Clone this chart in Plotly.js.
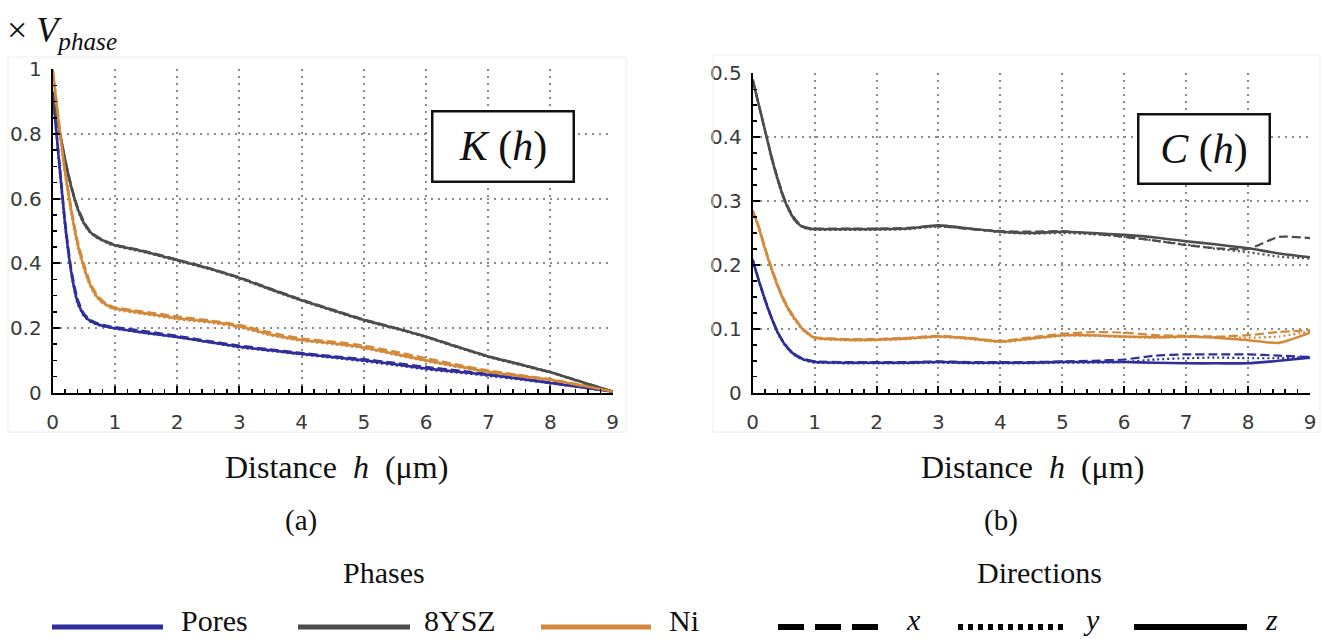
<!DOCTYPE html>
<html>
<head>
<meta charset="utf-8">
<script src="https://cdn.plot.ly/plotly-3.0.1.min.js"></script>
<style>html,body{margin:0;padding:0;background:#fff;}#chart{width:1323px;height:639px;}</style>
</head>
<body>
<div id="chart"></div>
<script>
// ---- Data ----
const phases = ['Pores', '8YSZ', 'Ni'];
const directions = ['x', 'y', 'z'];
const xTicks = [0, 1, 2, 3, 4, 5, 6, 7, 8, 9];
const yTicksK = [0, 0.2, 0.4, 0.6, 0.8, 1];
const yTicksC = [0, 0.1, 0.2, 0.3, 0.4, 0.5];

// distance h (µm)
const hK = [0,0.1,0.2,0.3,0.4,0.5,0.6,0.7,0.8,0.9,1,1.5,2,2.5,3,3.5,4,4.5,5,5.5,6,6.5,7,7.5,8,8.5,9];
const hC = [0,0.1,0.2,0.3,0.4,0.5,0.6,0.7,0.8,0.9,1,1.5,2,2.5,3,3.5,4,4.5,5,5.5,6,6.5,7,7.5,8,8.5,9];

// K(h)
const K_pores_x = [0.93,0.73,0.53,0.38,0.29,0.245,0.226,0.216,0.21,0.206,0.203,0.19,0.176,0.16,0.146,0.134,0.123,0.113,0.104,0.092,0.08,0.069,0.058,0.045,0.032,0.018,0.003];
const K_pores_y = [0.93,0.71,0.51,0.365,0.275,0.237,0.22,0.211,0.206,0.202,0.198,0.184,0.171,0.156,0.14,0.129,0.118,0.108,0.097,0.085,0.072,0.062,0.052,0.041,0.029,0.016,0.003];
const K_pores_z = [0.93,0.72,0.52,0.37,0.28,0.24,0.222,0.213,0.207,0.203,0.199,0.185,0.172,0.157,0.142,0.131,0.12,0.11,0.10,0.088,0.075,0.065,0.055,0.043,0.03,0.017,0.003];
const K_ysz_x = [0.91,0.82,0.72,0.64,0.575,0.53,0.5,0.485,0.474,0.465,0.458,0.437,0.412,0.386,0.357,0.322,0.288,0.257,0.227,0.201,0.174,0.143,0.113,0.089,0.064,0.034,0.004];
const K_ysz_y = [0.9,0.81,0.715,0.63,0.565,0.522,0.495,0.48,0.47,0.461,0.454,0.433,0.408,0.383,0.353,0.318,0.284,0.253,0.223,0.198,0.171,0.14,0.11,0.086,0.062,0.032,0.004];
const K_ysz_z = [0.91,0.82,0.72,0.635,0.57,0.525,0.497,0.482,0.472,0.463,0.456,0.435,0.41,0.385,0.355,0.32,0.286,0.255,0.225,0.2,0.173,0.142,0.112,0.088,0.063,0.033,0.004];
const K_ni_x = [1.0,0.84,0.69,0.57,0.47,0.4,0.342,0.306,0.285,0.272,0.264,0.25,0.236,0.224,0.21,0.186,0.168,0.158,0.146,0.127,0.107,0.087,0.069,0.055,0.042,0.024,0.004];
const K_ni_y = [1.0,0.82,0.67,0.55,0.45,0.383,0.33,0.296,0.277,0.265,0.257,0.242,0.227,0.217,0.202,0.177,0.16,0.15,0.137,0.117,0.097,0.079,0.062,0.05,0.038,0.021,0.004];
const K_ni_z = [1.0,0.83,0.68,0.56,0.46,0.39,0.335,0.3,0.28,0.268,0.26,0.245,0.23,0.22,0.205,0.18,0.163,0.153,0.14,0.12,0.1,0.082,0.065,0.052,0.04,0.022,0.004];

// C(h)
const C_pores_x = [0.208,0.176,0.146,0.119,0.096,0.079,0.067,0.059,0.054,0.051,0.049,0.048,0.048,0.048,0.049,0.048,0.048,0.048,0.049,0.05,0.052,0.058,0.06,0.06,0.06,0.058,0.056];
const C_pores_y = [0.208,0.174,0.144,0.117,0.094,0.077,0.065,0.057,0.052,0.049,0.047,0.046,0.046,0.046,0.047,0.046,0.046,0.046,0.047,0.047,0.048,0.052,0.054,0.055,0.054,0.054,0.056];
const C_pores_z = [0.208,0.175,0.145,0.118,0.095,0.078,0.066,0.058,0.053,0.05,0.048,0.047,0.047,0.047,0.048,0.047,0.047,0.047,0.048,0.048,0.048,0.047,0.046,0.046,0.046,0.05,0.055];
const C_ysz_x = [0.49,0.45,0.41,0.372,0.337,0.307,0.285,0.27,0.261,0.258,0.257,0.257,0.257,0.258,0.261,0.256,0.253,0.252,0.253,0.249,0.244,0.238,0.231,0.226,0.225,0.244,0.242];
const C_ysz_y = [0.49,0.45,0.41,0.368,0.333,0.303,0.282,0.267,0.259,0.256,0.255,0.255,0.255,0.256,0.26,0.257,0.251,0.249,0.25,0.248,0.244,0.238,0.232,0.225,0.22,0.213,0.21];
const C_ysz_z = [0.49,0.45,0.41,0.37,0.335,0.305,0.283,0.268,0.26,0.257,0.256,0.256,0.256,0.257,0.262,0.257,0.252,0.25,0.252,0.25,0.247,0.243,0.237,0.232,0.226,0.218,0.212];
const C_ni_x = [0.285,0.26,0.227,0.197,0.17,0.147,0.129,0.114,0.101,0.093,0.087,0.084,0.084,0.086,0.089,0.086,0.081,0.087,0.092,0.095,0.094,0.09,0.089,0.088,0.09,0.095,0.098];
const C_ni_y = [0.285,0.256,0.223,0.193,0.166,0.143,0.125,0.111,0.099,0.091,0.085,0.082,0.082,0.084,0.087,0.084,0.079,0.084,0.089,0.089,0.087,0.086,0.087,0.087,0.086,0.088,0.096];
const C_ni_z = [0.285,0.258,0.225,0.195,0.168,0.145,0.127,0.113,0.1,0.092,0.086,0.083,0.083,0.085,0.088,0.085,0.08,0.085,0.09,0.09,0.088,0.087,0.088,0.086,0.082,0.078,0.094];

// ---- Styles ----
const W = 1323, H = 639;
const px = v => v / W;
const py = v => 1 - v / H;
const phaseColor = {'Pores': '#2f2f9c', '8YSZ': '#4d4d4d', 'Ni': '#d4893a'};
const dirDash = {'x': '9px,4px', 'y': '2px,3px', 'z': 'solid'};
const serif = 'Liberation Serif, Times New Roman, serif';
const sans = 'DejaVu Sans, Verdana, sans-serif';

const Kdata = {
  'Pores': {x: K_pores_x, y: K_pores_y, z: K_pores_z},
  '8YSZ': {x: K_ysz_x, y: K_ysz_y, z: K_ysz_z},
  'Ni': {x: K_ni_x, y: K_ni_y, z: K_ni_z}
};
const Cdata = {
  'Pores': {x: C_pores_x, y: C_pores_y, z: C_pores_z},
  '8YSZ': {x: C_ysz_x, y: C_ysz_y, z: C_ysz_z},
  'Ni': {x: C_ni_x, y: C_ni_y, z: C_ni_z}
};

const traces = [];
[['x', 'y', hK, Kdata], ['x2', 'y2', hC, Cdata]].forEach(([xa, ya, hh, data]) => {
  directions.forEach(d => {
    phases.forEach(p => {
      traces.push({
        type: 'scatter', mode: 'lines', xaxis: xa, yaxis: ya,
        x: hh, y: data[p][d], name: p + ' ' + d, showlegend: false,
        line: {color: phaseColor[p], width: d === 'z' ? 2.6 : 2.2, dash: dirDash[d], shape: 'spline', smoothing: 0.5},
        hoverinfo: 'skip'
      });
    });
  });
});

function xAxis(domain, anchor) {
  return {
    domain: domain, anchor: anchor, range: [0, 9], tickvals: xTicks, ticktext: xTicks.map(String),
    showline: true, linecolor: '#000', linewidth: 2, zeroline: false,
    ticks: 'inside', ticklen: 7, tickwidth: 2, tickcolor: '#000',
    minor: {ticks: 'inside', ticklen: 4, tickwidth: 1.5, tickcolor: '#000', dtick: 0.2, tick0: 0, showgrid: false},
    showgrid: true, gridcolor: '#8a8a8a', gridwidth: 2, griddash: '2px,5px',
    tickfont: {family: sans, size: 20, color: '#3a3a3a'}, ticklabelstandoff: 10, fixedrange: true
  };
}
function yAxis(domain, anchor, range, vals, minorStep) {
  return {
    domain: domain, anchor: anchor, range: range, tickvals: vals, ticktext: vals.map(String),
    showline: true, linecolor: '#000', linewidth: 2, zeroline: false,
    ticks: 'inside', ticklen: 7, tickwidth: 2, tickcolor: '#000',
    minor: {ticks: 'inside', ticklen: 4, tickwidth: 1.5, tickcolor: '#000', dtick: minorStep, tick0: 0, showgrid: false},
    showgrid: true, gridcolor: '#8a8a8a', gridwidth: 2, griddash: '2px,5px',
    tickfont: {family: sans, size: 20, color: '#3a3a3a'}, ticklabelstandoff: 5, fixedrange: true
  };
}

const annotations = [
  {xref: 'paper', yref: 'paper', x: px(5), y: py(33), xanchor: 'left', yanchor: 'middle', showarrow: false,
   text: '× <i>V</i><sub><i>phase</i></sub>', font: {family: serif, size: 36, color: '#111'}},
  {xref: 'paper', yref: 'paper', x: px(502.5), y: py(146.5), xanchor: 'center', yanchor: 'middle', showarrow: false,
   text: '<i>K</i> (<i>h</i>)', font: {family: serif, size: 42, color: '#111'},
   bordercolor: '#111', borderwidth: 2.5, borderpad: 0, bgcolor: '#fff', width: 139, height: 68},
  {xref: 'paper', yref: 'paper', x: px(1204), y: py(149.5), xanchor: 'center', yanchor: 'middle', showarrow: false,
   text: '<i>C</i> (<i>h</i>)', font: {family: serif, size: 42, color: '#111'},
   bordercolor: '#111', borderwidth: 2.5, borderpad: 0, bgcolor: '#fff', width: 129, height: 67},
  {xref: 'paper', yref: 'paper', x: px(336), y: py(467), xanchor: 'center', yanchor: 'middle', showarrow: false,
   text: 'Distance  <i>h</i>  (μm)', font: {family: serif, size: 32, color: '#111'}},
  {xref: 'paper', yref: 'paper', x: px(1032), y: py(467), xanchor: 'center', yanchor: 'middle', showarrow: false,
   text: 'Distance  <i>h</i>  (μm)', font: {family: serif, size: 32, color: '#111'}},
  {xref: 'paper', yref: 'paper', x: px(301), y: py(520), xanchor: 'center', yanchor: 'middle', showarrow: false,
   text: '(a)', font: {family: serif, size: 29, color: '#111'}},
  {xref: 'paper', yref: 'paper', x: px(1001), y: py(520), xanchor: 'center', yanchor: 'middle', showarrow: false,
   text: '(b)', font: {family: serif, size: 29, color: '#111'}},
  {xref: 'paper', yref: 'paper', x: px(384), y: py(572), xanchor: 'center', yanchor: 'middle', showarrow: false,
   text: 'Phases', font: {family: serif, size: 30, color: '#111'}},
  {xref: 'paper', yref: 'paper', x: px(1039), y: py(572), xanchor: 'center', yanchor: 'middle', showarrow: false,
   text: 'Directions', font: {family: serif, size: 30, color: '#111'}}
];

const shapes = [
  // faint panel frames
  {type: 'rect', xref: 'paper', yref: 'paper', x0: px(8), x1: px(626), y0: py(432), y1: py(57), line: {color: '#eeeeee', width: 1}},
  {type: 'rect', xref: 'paper', yref: 'paper', x0: px(713), x1: px(1320), y0: py(432), y1: py(55), line: {color: '#eeeeee', width: 1}}
];

// Legend: phases
const phaseLegend = [[52, 163, 179], [298, 410, 422], [541, 651, 667]];
phases.forEach((p, i) => {
  const [a, b, t] = phaseLegend[i];
  shapes.push({type: 'line', xref: 'paper', yref: 'paper', x0: px(a), x1: px(b), y0: py(627), y1: py(627),
               line: {color: phaseColor[p], width: 5}});
  annotations.push({xref: 'paper', yref: 'paper', x: px(t), y: py(620), xanchor: 'left', yanchor: 'middle', showarrow: false,
                    text: p, font: {family: serif, size: 30, color: '#111'}});
});
// Legend: directions
const dirLegend = [[778, 879, 904, '26px,11px'], [958, 1064, 1081, '5px,5px'], [1134, 1247, 1263, 'solid']];
directions.forEach((d, i) => {
  const [a, b, t, dash] = dirLegend[i];
  shapes.push({type: 'line', xref: 'paper', yref: 'paper', x0: px(a), x1: px(b), y0: py(627), y1: py(627),
               line: {color: '#000', width: 6, dash: dash}});
  annotations.push({xref: 'paper', yref: 'paper', x: px(t), y: py(619), xanchor: 'left', yanchor: 'middle', showarrow: false,
                    text: '<i>' + d + '</i>', font: {family: serif, size: 30, color: '#111'}});
});

const layout = {
  width: W, height: H, margin: {l: 0, r: 0, t: 0, b: 0},
  paper_bgcolor: '#fff', plot_bgcolor: '#fff', showlegend: false,
  xaxis: xAxis([px(52.7), px(612.7)], 'y'),
  yaxis: yAxis([py(392.7), py(69.3)], 'x', [0, 1], yTicksK, 0.05),
  xaxis2: xAxis([px(752.7), px(1310)], 'y2'),
  yaxis2: yAxis([py(392.7), py(73.3)], 'x2', [0, 0.5], yTicksC, 0.025),
  annotations: annotations,
  shapes: shapes
};

Plotly.newPlot('chart', traces, layout, {staticPlot: true, displayModeBar: false});
</script>
</body>
</html>
